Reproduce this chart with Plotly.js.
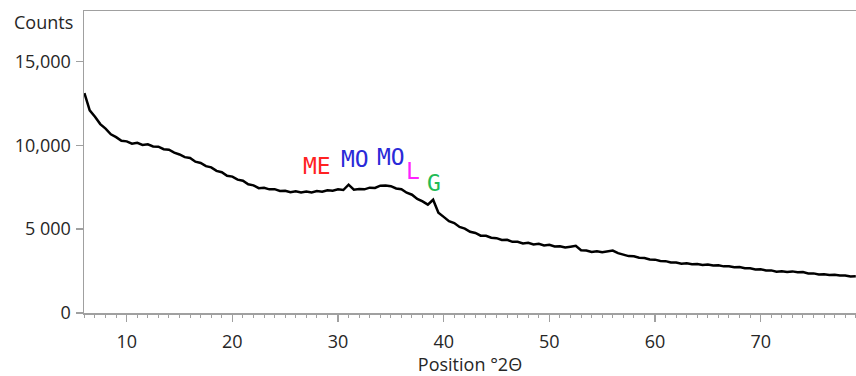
<!DOCTYPE html>
<html>
<head>
<meta charset="utf-8">
<script src="https://cdn.plot.ly/plotly-3.0.1.min.js"></script>
<style>html,body{margin:0;padding:0;background:#fff;}#chart{width:856px;height:376px;}</style>
</head>
<body>
<div id="chart"></div>
<script>
// Position (°2θ)
const angles = [
  6.0,6.5,7.0,7.5,8.0,8.5,9.0,9.5,10.0,10.5,
  11.0,11.5,12.0,12.5,13.0,13.5,14.0,14.5,15.0,15.5,
  16.0,16.5,17.0,17.5,18.0,18.5,19.0,19.5,20.0,20.5,
  21.0,21.5,22.0,22.5,23.0,23.5,24.0,24.5,25.0,25.5,
  26.0,26.5,27.0,27.5,28.0,28.5,29.0,29.5,30.0,30.5,
  31.0,31.5,32.0,32.5,33.0,33.5,34.0,34.5,35.0,35.5,
  36.0,36.5,37.0,37.5,38.0,38.5,39.0,39.5,40.0,40.5,
  41.0,41.5,42.0,42.5,43.0,43.5,44.0,44.5,45.0,45.5,
  46.0,46.5,47.0,47.5,48.0,48.5,49.0,49.5,50.0,50.5,
  51.0,51.5,52.0,52.5,53.0,53.5,54.0,54.5,55.0,55.5,
  56.0,56.5,57.0,57.5,58.0,58.5,59.0,59.5,60.0,60.5,
  61.0,61.5,62.0,62.5,63.0,63.5,64.0,64.5,65.0,65.5,
  66.0,66.5,67.0,67.5,68.0,68.5,69.0,69.5,70.0,70.5,
  71.0,71.5,72.0,72.5,73.0,73.5,74.0,74.5,75.0,75.5,
  76.0,76.5,77.0,77.5,78.0,78.5,79.0
];
// Counts
const counts = [
  13100,12080,11700,11260,10990,10650,10480,10260,10230,10090,
  10140,10020,10050,9930,9910,9760,9730,9560,9450,9290,
  9240,9020,8940,8750,8680,8470,8390,8180,8130,7950,
  7880,7670,7610,7440,7460,7370,7380,7270,7290,7200,
  7250,7190,7240,7190,7270,7230,7320,7290,7370,7330,
  7650,7350,7390,7370,7470,7450,7590,7600,7560,7420,
  7380,7170,7050,6800,6650,6460,6750,5980,5730,5470,
  5360,5130,5030,4840,4770,4610,4600,4490,4460,4350,
  4360,4240,4250,4150,4180,4090,4120,4030,4060,3960,
  3980,3900,3950,4000,3740,3720,3640,3680,3620,3690,
  3720,3570,3500,3390,3380,3290,3280,3190,3180,3100,
  3090,3010,3010,2940,2960,2900,2920,2860,2890,2830,
  2840,2780,2790,2730,2740,2670,2670,2600,2610,2540,
  2540,2460,2490,2440,2480,2430,2440,2360,2360,2290,
  2310,2260,2280,2230,2240,2170,2190
];
// Phase labels
const phaseLabels = ["ME", "MO", "MO", "L", "G"];
const phaseX = [28.0, 31.65, 35.0, 37.14, 39.08];
const phaseY = [8750, 9200, 9320, 8450, 7770];
const phaseColors = ["#ff2222", "#2a2ad8", "#2a2ad8", "#ff22ff", "#22bb55"];
// Axis ticks
const yTickVals = [0, 5000, 10000, 15000];
const yTickText = ["0", "5 000", "10,000", "15,000"];

const axisColor = "#a0a0a0";
const textColor = "#262626";
const baseFont = "Open Sans, sans-serif";

const trace = {
  x: angles, y: counts, type: "scatter", mode: "lines",
  line: {color: "#000", width: 2.5}, hoverinfo: "skip", showlegend: false
};

const annotations = phaseLabels.map((t, i) => ({
  x: phaseX[i], y: phaseY[i], xref: "x", yref: "y", text: t, showarrow: false,
  xanchor: "center", yanchor: "middle",
  font: {family: "DejaVu Sans Mono, monospace", size: 23, color: phaseColors[i]}
}));
annotations.push({
  x: -0.052, y: 0.964, xref: "paper", yref: "paper", text: "Counts", showarrow: false,
  xanchor: "center", yanchor: "middle", font: {family: baseFont, size: 18, color: textColor}
});

const layout = {
  width: 856, height: 376,
  margin: {l: 84, r: 0, t: 11, b: 63},
  paper_bgcolor: "#fff", plot_bgcolor: "#fff",
  showlegend: false,
  font: {family: baseFont, size: 18, color: textColor},
  xaxis: {
    range: [5.96, 79.02], showgrid: false, zeroline: false,
    showline: true, linecolor: axisColor, linewidth: 1.5, mirror: true,
    tickmode: "linear", tick0: 0, dtick: 10,
    ticks: "outside", ticklen: 7, tickcolor: axisColor, tickwidth: 1.3,
    ticklabelstandoff: 5,
    minor: {dtick: 1, tick0: 0, ticks: "outside", ticklen: 3, tickcolor: axisColor, tickwidth: 1},
    tickfont: {family: baseFont, size: 18, color: textColor},
    title: {text: "Position °2Θ", font: {family: baseFont, size: 18, color: textColor}, standoff: 3}
  },
  yaxis: {
    range: [0, 18000], showgrid: false, zeroline: false,
    showline: true, linecolor: axisColor, linewidth: 1.5,
    tickmode: "array", tickvals: yTickVals, ticktext: yTickText,
    ticks: "outside", ticklen: 7, tickcolor: axisColor, tickwidth: 1.3,
    ticklabelstandoff: 1,
    tickfont: {family: baseFont, size: 18, color: textColor}
  },
  annotations: annotations
};

Plotly.newPlot("chart", [trace], layout, {staticPlot: true, displayModeBar: false});
</script>
</body>
</html>
